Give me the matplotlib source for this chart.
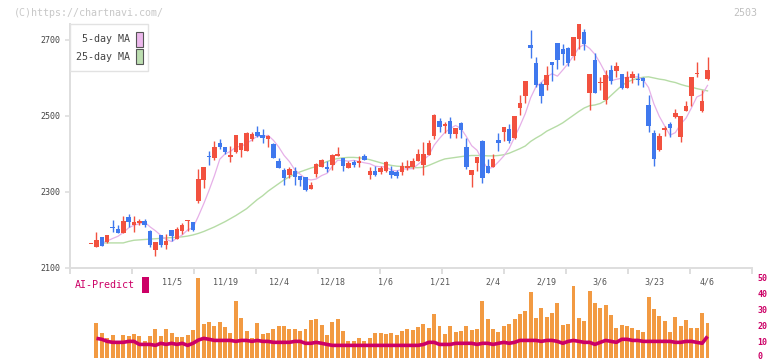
# Candlestick chart with 5/25-day MA and a volume / AI-Predict panel

import numpy as np
import pandas as pd
import matplotlib
matplotlib.use("Agg")
import matplotlib.pyplot as plt
from matplotlib.patches import Rectangle
from matplotlib.transforms import ScaledTranslation

# daily prices (oldest first)
opens = [2164, 2154, 2182, 2169, 2206, 2203, 2193, 2235, 2214, 2219,
         2224, 2198, 2148, 2187, 2161, 2201, 2177, 2198, 2224, 2222,
         2275, 2332, 2396, 2390, 2429, 2419, 2393, 2406, 2411, 2408,
         2440, 2458, 2450, 2440, 2427, 2382, 2358, 2345, 2356, 2343,
         2340, 2308, 2348, 2366, 2366, 2370, 2395, 2390, 2364, 2379,
         2377, 2395, 2345, 2356, 2353, 2356, 2356, 2353, 2353, 2364,
         2366, 2382, 2371, 2398, 2448, 2487, 2474, 2487, 2453, 2482,
         2419, 2345, 2377, 2434, 2369, 2366, 2437, 2458, 2466, 2442,
         2521, 2553, 2687, 2639, 2584, 2582, 2642, 2692, 2676, 2679,
         2658, 2703, 2721, 2561, 2647, 2587, 2542, 2621, 2618, 2611,
         2574, 2600, 2598, 2600, 2529, 2455, 2411, 2463, 2479, 2497,
         2445, 2513, 2553, 2611, 2513, 2597]
highs = [2164, 2195, 2182, 2187, 2227, 2214, 2236, 2243, 2237, 2229,
         2229, 2201, 2169, 2187, 2190, 2201, 2208, 2219, 2227, 2222,
         2361, 2366, 2408, 2434, 2440, 2419, 2421, 2450, 2429, 2458,
         2458, 2474, 2466, 2450, 2429, 2390, 2364, 2366, 2366, 2343,
         2340, 2327, 2377, 2387, 2382, 2401, 2419, 2390, 2382, 2385,
         2395, 2401, 2366, 2369, 2369, 2382, 2369, 2358, 2379, 2385,
         2390, 2413, 2432, 2437, 2505, 2495, 2484, 2498, 2469, 2484,
         2442, 2358, 2393, 2437, 2387, 2401, 2455, 2471, 2479, 2500,
         2555, 2592, 2726, 2655, 2590, 2632, 2642, 2692, 2689, 2682,
         2708, 2742, 2729, 2611, 2666, 2603, 2621, 2634, 2642, 2611,
         2619, 2619, 2613, 2603, 2555, 2463, 2455, 2474, 2484, 2518,
         2500, 2539, 2603, 2642, 2569, 2655]
lows = [2164, 2154, 2159, 2166, 2196, 2193, 2193, 2209, 2196, 2214,
        2209, 2156, 2132, 2156, 2151, 2172, 2177, 2190, 2198, 2198,
        2272, 2311, 2371, 2385, 2413, 2400, 2379, 2403, 2392, 2408,
        2434, 2445, 2429, 2419, 2390, 2364, 2319, 2337, 2319, 2316,
        2303, 2308, 2340, 2366, 2353, 2358, 2395, 2356, 2364, 2366,
        2366, 2385, 2335, 2343, 2348, 2353, 2337, 2337, 2345, 2358,
        2361, 2382, 2345, 2398, 2440, 2458, 2455, 2442, 2442, 2442,
        2361, 2314, 2356, 2324, 2351, 2366, 2408, 2434, 2429, 2440,
        2503, 2534, 2653, 2576, 2534, 2568, 2592, 2624, 2634, 2632,
        2647, 2676, 2674, 2516, 2561, 2569, 2532, 2584, 2603, 2571,
        2574, 2587, 2582, 2576, 2458, 2369, 2408, 2448, 2445, 2495,
        2432, 2513, 2526, 2603, 2510, 2595]
closes = [2164, 2174, 2159, 2187, 2204, 2193, 2224, 2220, 2222, 2224,
          2214, 2161, 2169, 2161, 2172, 2185, 2203, 2214, 2227, 2201,
          2335, 2366, 2392, 2419, 2419, 2406, 2398, 2450, 2429, 2455,
          2453, 2448, 2442, 2448, 2390, 2364, 2337, 2361, 2340, 2332,
          2306, 2319, 2374, 2385, 2361, 2398, 2401, 2369, 2377, 2371,
          2382, 2385, 2356, 2345, 2364, 2379, 2345, 2343, 2369, 2369,
          2382, 2401, 2401, 2429, 2503, 2471, 2479, 2453, 2469, 2463,
          2366, 2358, 2393, 2337, 2351, 2387, 2429, 2471, 2434, 2500,
          2534, 2592, 2679, 2582, 2553, 2608, 2634, 2647, 2663, 2639,
          2708, 2742, 2689, 2611, 2561, 2590, 2608, 2592, 2632, 2574,
          2603, 2611, 2595, 2592, 2474, 2387, 2448, 2469, 2469, 2508,
          2500, 2526, 2603, 2613, 2539, 2621]

ma25 = [np.nan, np.nan, 2166, 2166, 2166, 2166, 2166, 2170, 2173, 2174,
        2175, 2176, 2177, 2178, 2179, 2180, 2181, 2182, 2184, 2187,
        2191, 2196, 2202, 2208, 2215, 2222, 2230, 2238, 2247, 2256,
        2268, 2280, 2290, 2302, 2312, 2322, 2332, 2340, 2347, 2353,
        2358, 2363, 2367, 2374, 2380, 2385, 2388, 2390, 2391, 2391,
        2390, 2388, 2385, 2381, 2377, 2373, 2370, 2368, 2367, 2365,
        2364, 2364, 2365, 2370, 2376, 2382, 2387, 2389, 2391, 2393,
        2395, 2396, 2396, 2396, 2395, 2395, 2396, 2398, 2402, 2408,
        2414, 2421, 2433, 2442, 2450, 2460, 2467, 2474, 2482, 2492,
        2502, 2512, 2521, 2527, 2529, 2533, 2541, 2554, 2567, 2580,
        2589, 2595, 2599, 2602, 2603, 2600, 2597, 2595, 2591, 2588,
        2583, 2579, 2576, 2572, 2569, 2566]

volume = [0, 21.9, 15.4, 12.5, 14.2, 10.4, 14.2, 13.5, 14.8, 13.5,
          10.4, 13.5, 17.9, 13.5, 17.9, 15.4, 12.9, 12.9, 14.2, 17.3,
          49.8, 21.0, 22.5, 19.8, 22.5, 19.2, 15.4, 35.4, 24.8, 16.7,
          12.3, 21.7, 14.8, 15.4, 17.9, 19.8, 19.8, 17.9, 17.9, 16.7,
          17.9, 23.5, 24.2, 20.4, 14.2, 22.3, 24.2, 16.7, 10.4, 10.4,
          12.1, 10.4, 12.3, 15.4, 15.4, 14.8, 15.4, 14.2, 16.9, 17.9,
          17.3, 19.2, 21.0, 18.5, 27.3, 19.8, 14.8, 19.8, 16.0, 16.7,
          19.8, 17.3, 17.9, 35.4, 24.2, 17.9, 16.0, 19.8, 21.0, 24.2,
          27.3, 29.2, 41.0, 24.8, 31.0, 25.4, 27.9, 34.2, 20.4, 21.0,
          44.8, 24.8, 22.9, 41.7, 34.2, 31.0, 32.9, 26.7, 18.5, 20.4,
          19.8, 18.5, 17.3, 16.0, 37.9, 30.4, 26.0, 22.9, 16.0, 25.4,
          19.8, 23.5, 18.5, 18.5, 27.9, 21.7]

ai_predict = [np.nan, 12.1, 11.5, 10.2, 9.6, 9.6, 9.6, 10.2, 10.2, 8.3,
              8.3, 8.3, 7.7, 9.0, 8.3, 9.0, 8.3, 9.0, 7.7, 9.0,
              11.0, 12.1, 11.5, 10.8, 10.8, 10.8, 10.8, 10.2, 10.8, 10.8,
              10.2, 10.8, 10.2, 10.2, 9.6, 9.6, 9.6, 9.6, 10.2, 10.2,
              9.0, 9.0, 9.6, 9.0, 8.3, 7.7, 7.7, 7.7, 7.7, 7.7,
              7.7, 7.7, 7.7, 7.7, 7.7, 7.7, 7.7, 7.7, 7.7, 7.7,
              7.7, 7.7, 8.3, 9.6, 9.6, 8.3, 8.3, 8.3, 9.0, 9.0,
              9.0, 9.0, 8.3, 9.0, 9.0, 8.3, 9.0, 9.6, 9.0, 9.6,
              10.8, 10.8, 10.8, 10.8, 10.2, 10.8, 10.8, 10.2, 9.0, 10.2,
              10.8, 10.2, 9.6, 9.6, 8.3, 9.6, 10.8, 10.2, 9.6, 11.5,
              11.5, 10.8, 10.8, 10.2, 10.2, 10.2, 10.2, 10.2, 10.2, 9.6,
              9.6, 10.2, 10.2, 9.6, 9.0, 13.3]

date_labels = ['11/5', '11/19', '12/4', '12/18', '1/6', '1/21',
               '2/4', '2/19', '3/6', '3/23', '4/6']
date_idx = [15, 25, 35, 45, 55, 65, 75, 85, 95, 105, 115]

price_ticks = [2100, 2300, 2500, 2700]
ai_ticks = [0, 10, 20, 30, 40, 50]

# ---------------------------------------------------------------
W, H = 772, 361
UP, DOWN = '#f2513f', '#3f78ee'
MAGENTA = '#cc0066'
MONO = 'DejaVu Sans Mono'


def px(x, y):
    """pixel position (from top-left) -> figure fraction"""
    return x / W, 1 - y / H


o = np.array(opens, float)
c = np.array(closes, float)
hi = np.array(highs, float)
lo = np.array(lows, float)
x = np.arange(len(c))
ma5 = pd.Series(c).rolling(5, min_periods=1).mean().values
ma5[:2] = np.nan

xlim = (-3.94, 123.3)

fig = plt.figure(figsize=(W / 100, H / 100), dpi=100)
ax = fig.add_axes([70 / W, (H - 268) / H, 682 / W, 244 / H])

ax.plot(x, ma25, color='#b6dca6', lw=1.0, zorder=1)
ax.plot(x, ma5, color='#e6b0e8', lw=0.9, zorder=1)

cols = np.where(c >= o, UP, DOWN)
ax.vlines(x, lo, hi, colors=cols, lw=1.0, zorder=2)
body = np.maximum(np.abs(c - o), 2.6)
ax.bar(x, body, bottom=np.minimum(o, c), width=0.84, color=cols,
       linewidth=0, zorder=3)

ax.set_xlim(*xlim)
ax.set_ylim(2100, 2742)
for s in ['top', 'right']:
    ax.spines[s].set_visible(False)
for s in ['left', 'bottom']:
    ax.spines[s].set_color('#dedede')
    ax.spines[s].set_linewidth(1.4)
ax.set_yticks(price_ticks)
ax.set_yticklabels([str(t) for t in price_ticks], fontsize=6, family=MONO,
                   color='#444444')
ax.set_xticks(np.linspace(xlim[0], xlim[1], 12))
ax.set_xticklabels([])
ax.tick_params(axis='y', length=3.6, width=1.2, color='#dedede', pad=3.5)
ax.tick_params(axis='x', length=4.5, width=1.4, color='#dedede')

for lab, i in zip(date_labels, date_idx):
    ax.text(i, -0.058, lab, transform=ax.get_xaxis_transform(),
            ha='center', va='center', fontsize=6, family=MONO, color='#555555')

# legend box
fig.patches.append(Rectangle(px(70.3, 71), 78 / W, 46.7 / H,
                             transform=fig.transFigure, facecolor='white',
                             edgecolor='#e2e2e2', lw=1.0, zorder=5))
for lab, yc, col in [('5-day MA', 39.3, '#ecb8ec'), ('25-day MA', 56.7, '#bcdeb0')]:
    fig.text(*px(130, yc), lab, ha='right', va='center', fontsize=7.2,
             family=MONO, color='#444444', zorder=6)
    fig.patches.append(Rectangle(px(136.3, yc + 7.5), 6.4 / W, 15 / H,
                                 transform=fig.transFigure, facecolor=col,
                                 edgecolor='#555555', lw=0.8, zorder=6))

fig.text(*px(14, 12.5), '(C)https://chartnavi.com/', ha='left', va='center',
         fontsize=7.2, family=MONO, color='#c8c8c8')
fig.text(*px(757, 12.5), '2503', ha='right', va='center',
         fontsize=7.2, family=MONO, color='#c0c0c0')

# volume / AI-Predict panel
ax2 = fig.add_axes([70 / W, (H - 357.7) / H, 682 / W, 80 / H])
ax2.bar(x, volume, width=0.74, color='#f29a42', linewidth=0)
ax2.plot(x, ai_predict, color=MAGENTA, lw=2.6, solid_capstyle='butt')
ax2.set_xlim(*xlim)
ax2.set_ylim(0, 50)
for s in ax2.spines.values():
    s.set_visible(False)
ax2.set_xticks([])
ax2.yaxis.tick_right()
ax2.set_yticks(ai_ticks)
ax2.set_yticklabels([str(t) for t in ai_ticks], fontsize=6, family=MONO,
                    color=MAGENTA, fontweight='bold')
ax2.tick_params(axis='y', length=0, pad=4)
ax2.patch.set_alpha(0)
# keep the "0" label inside the picture
zero_lbl = ax2.get_yticklabels()[0]
zero_lbl.set_transform(zero_lbl.get_transform() +
                       ScaledTranslation(0, 1.8 / 72, fig.dpi_scale_trans))

fig.text(*px(75, 285.5), 'AI-Predict', ha='left', va='center', fontsize=7.2,
         family=MONO, color=MAGENTA)
fig.patches.append(Rectangle(px(142, 293), 6.7 / W, 16 / H,
                             transform=fig.transFigure, facecolor=MAGENTA,
                             edgecolor='none'))

fig.savefig('out.png', dpi=100)
